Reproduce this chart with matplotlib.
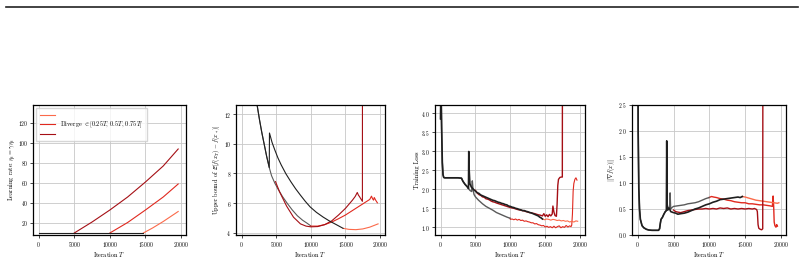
import matplotlib
matplotlib.use("Agg")
import matplotlib.pyplot as plt
from matplotlib.lines import Line2D
import numpy as np

plt.rcParams['font.family'] = 'serif'
plt.rcParams['font.serif'] = ['cmr10']
plt.rcParams['mathtext.fontset'] = 'cm'
plt.rcParams['axes.formatter.use_mathtext'] = True
plt.rcParams['font.size'] = 4.5
plt.rcParams['xtick.labelsize'] = 4
plt.rcParams['ytick.labelsize'] = 4

C_BLACK = '#1f1f1f'
C_GREY = '#5a5a5a'
C_DARK = '#a50f15'
C_MID = '#e0291f'
C_LIGHT = '#fb6a4a'

# ---------------- panel 1: learning rate ----------------
lr_base_x = [0, 14600]
lr_base_y = [10, 10]
lr_dark_x = [5000, 7500, 10000, 12500, 15000, 17500, 19600]
lr_dark_y = [10, 21, 33, 46, 61, 77, 94]
lr_mid_x = [10000, 12500, 15000, 17500, 19600]
lr_mid_y = [10, 20.5, 33, 46, 59]
lr_light_x = [14700, 16000, 17500, 19600]
lr_light_y = [10, 15, 21.5, 31.5]

# ---------------- panel 2: upper bound ----------------
ub_warm_x = [2000, 2230, 2600, 2930, 3300, 3630, 4000]
ub_warm_y = [14.5, 12.66, 11.6, 10.75, 9.9, 9.14, 8.4]
ub_black_x = [4000, 4030, 4400, 4790, 5250, 5720, 6400, 7120, 7800, 8510, 9200, 9910,
              10800, 11770, 12700, 13630, 14650]
ub_black_y = [8.4, 10.73, 10.1, 9.6, 9.05, 8.58, 7.98, 7.44, 6.97, 6.53, 6.12, 5.74,
              5.38, 5.06, 4.79, 4.56, 4.3]
ub_grey_x = [4000, 4330, 4800, 5260, 5900, 6650, 7300, 8050, 8800, 9440, 9950]
ub_grey_y = [8.4, 7.85, 7.35, 6.95, 6.45, 5.95, 5.55, 5.15, 4.85, 4.65, 4.48]
ub_dark_x = [4900, 5500, 6500, 7500, 8500, 9300, 10000, 11000, 12000, 13000, 14000,
             15000, 16000, 16400, 16700, 16850, 17000, 17200, 17440, 17470]
ub_dark_y = [7.45, 6.75, 5.8, 5.05, 4.6, 4.45, 4.4, 4.42, 4.55, 4.8, 5.2,
             5.65, 6.2, 6.45, 6.72, 6.55, 6.45, 6.3, 6.12, 40]
ub_mid_x = [9950, 11000, 12000, 13000, 14000, 15000, 16000, 17000, 18000, 18500,
            18750, 18900, 19050, 19150, 19350, 19600]
ub_mid_y = [4.45, 4.45, 4.55, 4.72, 4.95, 5.2, 5.5, 5.8, 6.1, 6.25,
            6.47, 6.3, 6.2, 6.38, 6.2, 6.02]
ub_light_x = [14650, 15500, 16500, 17500, 18500, 19700]
ub_light_y = [4.3, 4.23, 4.21, 4.26, 4.38, 4.6]

# ---------------- panel 3: training loss ----------------
loss_warm_x = [0, 30, 80, 150, 250, 350, 450, 600, 1000, 1500, 2000, 2500, 3000,
               3200, 3500, 3800, 4000]
loss_warm_y = [3.85, 4.6, 4.5, 3.6, 2.7, 2.38, 2.31, 2.3, 2.3, 2.3, 2.3, 2.3, 2.29,
               2.21, 2.13, 2.07, 2.02]
loss_black_x = [4000, 4040, 4100, 4200, 4400, 4700, 5000, 5250, 5500, 5750, 6000, 6250,
                6500, 6750, 7000, 7250, 7500, 7750, 8000, 8250, 8500, 8750, 9000,
                9250, 9500, 9750, 10000, 10250, 10500, 10750, 11000, 11250, 11500,
                11750, 12000, 12250, 12500, 12750, 13000, 13250, 13500, 13750,
                14000, 14200, 14400, 14600]
loss_black_y = [2.02, 2.99, 2.5, 2.15, 2.06, 2.0, 1.95, 1.91, 1.89, 1.85, 1.83, 1.81,
                1.79, 1.77, 1.75, 1.73, 1.71, 1.70, 1.68, 1.66, 1.65, 1.63, 1.62,
                1.60, 1.59, 1.56, 1.55, 1.53, 1.52, 1.50, 1.49, 1.47, 1.46,
                1.44, 1.44, 1.42, 1.41, 1.39, 1.38, 1.36, 1.34, 1.32,
                1.30, 1.27, 1.25, 1.22]
loss_grey_x = [4000, 4200, 4450, 4550, 4650, 4800, 5000, 5400, 6000, 6500, 7000, 7500,
               8000, 8500, 9000, 9500, 9950]
loss_grey_y = [2.02, 1.97, 1.94, 2.22, 1.99, 1.86, 1.80, 1.72, 1.62, 1.55, 1.50, 1.45,
               1.39, 1.35, 1.31, 1.27, 1.24]
loss_dark_x = [5000, 5250, 5500, 5750, 6000, 6250, 6500, 6750, 7000, 7250, 7500, 7750,
               8000, 8500, 9000, 9500, 10000, 10500, 11000, 11500, 12000, 12500,
               13000, 13500, 14000, 14300, 14600, 14800, 15000, 15200, 15400, 15600,
               15800, 16000, 16100, 16250, 16400, 16600, 16700, 16800, 16900, 17100,
               17300, 17450, 17470]
loss_dark_y = [1.97, 1.90, 1.86, 1.84, 1.80, 1.79, 1.75, 1.74, 1.72, 1.69, 1.67, 1.66,
               1.64, 1.61, 1.58, 1.55, 1.52, 1.50, 1.47, 1.45, 1.43, 1.40,
               1.38, 1.36, 1.33, 1.32, 1.30, 1.36, 1.29, 1.33, 1.28, 1.34,
               1.30, 1.35, 1.56, 1.40, 1.31, 1.29, 1.60, 2.10, 2.26, 2.31,
               2.32, 2.32, 6.0]
loss_mid_x = [9950, 10000, 10250, 10500, 10750, 11000, 11250, 11500, 11750, 12000,
              12250, 12500, 12750, 13000, 13250, 13500, 13750, 14000, 14250, 14500,
              14750, 15000, 15250, 15500, 15750, 16000, 16250, 16500, 16750, 17000,
              17250, 17500, 17750, 18000, 18250, 18500, 18700, 18800, 18900, 19000,
              19100, 19250, 19400, 19550]
loss_mid_y = [1.24, 1.21, 1.22, 1.20, 1.22, 1.19, 1.21, 1.18, 1.19, 1.16,
              1.17, 1.15, 1.14, 1.12, 1.12, 1.09, 1.10, 1.07, 1.06, 1.04,
              1.05, 1.01, 1.03, 1.00, 1.02, 0.99, 1.03, 0.99, 1.02, 1.04,
              0.99, 1.02, 1.00, 1.05, 1.01, 1.04, 1.02, 1.06, 1.35, 1.95,
              2.15, 2.26, 2.30, 2.24]
loss_light_x = [14600, 14900, 15200, 15500, 15800, 16100, 16400, 16700, 17000, 17300,
                17600, 17900, 18200, 18500, 18800, 19100, 19400, 19650]
loss_light_y = [1.22, 1.20, 1.22, 1.21, 1.19, 1.21, 1.20, 1.18, 1.19, 1.17,
                1.18, 1.16, 1.17, 1.14, 1.16, 1.14, 1.17, 1.16]

# ---------------- panel 4: gradient norm ----------------
gn_warm_x = [0, 60, 150, 250, 370, 600, 840, 1200, 1540, 2000, 2500, 2900, 3050,
             3150, 3250, 3450, 3650, 3850, 4000]
gn_warm_y = [5.0, 2.0, 0.9, 0.5, 0.30, 0.18, 0.14, 0.11, 0.096, 0.09, 0.09, 0.09, 0.12,
             0.22, 0.30, 0.34, 0.40, 0.45, 0.47]
gn_black_x = [4000, 4050, 4100, 4200, 4400, 4600, 4800, 5000, 5300, 5600, 6000, 6500,
              7000, 7500, 8000, 8500, 9000, 9500, 10000, 10500, 11000, 11500, 12000,
              12500, 13000, 13500, 14000, 14300, 14600]
gn_black_y = [0.47, 1.81, 0.60, 0.48, 0.52, 0.45, 0.44, 0.43, 0.42, 0.40, 0.41, 0.42,
              0.44, 0.47, 0.50, 0.52, 0.55, 0.58, 0.60, 0.63, 0.65, 0.68, 0.69,
              0.70, 0.71, 0.72, 0.73, 0.72, 0.74]
gn_grey_x = [4000, 4200, 4450, 4520, 4600, 4800, 5000, 5500, 6000, 6500, 7000, 7500,
             8000, 8500, 9000, 9500, 9950]
gn_grey_y = [0.47, 0.50, 0.55, 0.81, 0.50, 0.53, 0.55, 0.56, 0.57, 0.58, 0.60, 0.61,
             0.62, 0.64, 0.67, 0.70, 0.72]
gn_dark_x = [5000, 5300, 5600, 6000, 6500, 7000, 7500, 8000, 8500, 9000, 9500, 10000,
             10500, 11000, 11500, 12000, 12500, 13000, 13500, 14000, 14500, 15000,
             15500, 16000, 16300, 16600, 16700, 16800, 16900, 17100, 17300, 17450,
             17470]
gn_dark_y = [0.48, 0.45, 0.44, 0.43, 0.45, 0.47, 0.48, 0.49, 0.50, 0.50, 0.51, 0.50,
             0.51, 0.50, 0.52, 0.51, 0.52, 0.50, 0.51, 0.50, 0.51, 0.50,
             0.51, 0.50, 0.51, 0.49, 0.45, 0.20, 0.13, 0.11, 0.10, 0.12,
             3.0]
gn_mid_x = [9950, 10300, 10600, 11000, 11500, 12000, 12500, 13000, 13500, 14000, 14500,
            15000, 15500, 16000, 16500, 17000, 17500, 18000, 18500, 18800, 18900,
            18980, 19050, 19150, 19300, 19400, 19500]
gn_mid_y = [0.72, 0.74, 0.73, 0.72, 0.70, 0.69, 0.67, 0.66, 0.64, 0.63, 0.62,
            0.62, 0.60, 0.60, 0.59, 0.58, 0.58, 0.57, 0.56, 0.55, 0.75,
            0.55, 0.25, 0.18, 0.15, 0.20, 0.17]
gn_light_x = [14600, 15000, 15500, 16000, 16500, 17000, 17500, 18000, 18500, 19000,
              19500, 19700]
gn_light_y = [0.74, 0.73, 0.71, 0.69, 0.67, 0.66, 0.65, 0.64, 0.63, 0.62,
              0.61, 0.62]

fig = plt.figure(figsize=(8.04, 2.59), dpi=100)
fig.add_artist(Line2D([0.007, 0.992], [0.973, 0.973], color='#222222', lw=1.2))

H = 259.0
W = 804.0
boxes = [(33, 186), (236, 385), (435, 585), (632, 786)]
axes = []
for x0, x1 in boxes:
    ax = fig.add_axes([x0 / W, (H - 235) / H, (x1 - x0) / W, 130 / H])
    axes.append(ax)

lw = 0.8
for ax in axes:
    ax.grid(True, color='#c8c8c8', lw=0.6)
    ax.set_axisbelow(True)
    for s in ax.spines.values():
        s.set_linewidth(0.9)
    ax.tick_params(length=2, width=0.5, pad=1.5)
    ax.set_xlim(-800, 20700)
    ax.set_xticks([0, 5000, 10000, 15000, 20000])
    ax.set_xlabel('Iteration $T$', labelpad=1)

# panel 1
ax = axes[0]
ax.plot(lr_light_x, lr_light_y, color=C_LIGHT, lw=lw)
ax.plot(lr_mid_x, lr_mid_y, color=C_MID, lw=lw)
ax.plot(lr_dark_x, lr_dark_y, color=C_DARK, lw=lw)
ax.plot(lr_base_x, lr_base_y, color=C_BLACK, lw=lw)
ax.set_ylim(8, 138)
ax.set_yticks([20, 40, 60, 80, 100, 120])
ax.set_ylabel(r'Learning rate: $\eta_t = \gamma\eta_t$', labelpad=1)
hs = [Line2D([], [], color=c, lw=lw) for c in (C_LIGHT, C_MID, C_DARK)]
ax.legend(hs, ['', r'Diverge $\in [0.25T,\, 0.5T,\, 0.75T]$', ''], loc='upper left',
          fontsize=4.5, labelspacing=0.3, handlelength=2.5, borderpad=0.6,
          frameon=True, fancybox=False, edgecolor='#cccccc')

# panel 2
ax = axes[1]
ax.plot(ub_warm_x + ub_grey_x, ub_warm_y + ub_grey_y, color=C_GREY, lw=lw)
ax.plot(ub_light_x, ub_light_y, color=C_LIGHT, lw=lw)
ax.plot(ub_mid_x, ub_mid_y, color=C_MID, lw=lw)
ax.plot(ub_dark_x, ub_dark_y, color=C_DARK, lw=lw)
ax.plot(ub_warm_x + ub_black_x, ub_warm_y + ub_black_y, color=C_BLACK, lw=lw)
ax.set_ylim(3.85, 12.62)
ax.set_yticks([4, 6, 8, 10, 12])
ax.set_ylabel(r'Upper bound of $\mathbb{E}[f(x_T) - f(x_*)]$', labelpad=1)

# panel 3
ax = axes[2]
ax.plot(loss_mid_x, loss_mid_y, color=C_MID, lw=lw)
ax.plot(loss_light_x, loss_light_y, color=C_LIGHT, lw=lw)
ax.plot(loss_warm_x + loss_grey_x, loss_warm_y + loss_grey_y, color=C_GREY, lw=1.0)
ax.plot(loss_dark_x, loss_dark_y, color=C_DARK, lw=1.0)
ax.plot(loss_warm_x + loss_black_x, loss_warm_y + loss_black_y, color=C_BLACK, lw=1.2)
ax.set_ylim(0.8, 4.21)
ax.set_yticks([1.0, 1.5, 2.0, 2.5, 3.0, 3.5, 4.0])
ax.set_ylabel('Training Loss', labelpad=1)

# panel 4
ax = axes[3]
ax.plot(gn_mid_x, gn_mid_y, color=C_MID, lw=1.0)
ax.plot(gn_light_x, gn_light_y, color=C_LIGHT, lw=1.0)
ax.plot(gn_warm_x + gn_grey_x, gn_warm_y + gn_grey_y, color=C_GREY, lw=1.0)
ax.plot(gn_dark_x, gn_dark_y, color=C_DARK, lw=1.0)
ax.plot(gn_warm_x + gn_black_x, gn_warm_y + gn_black_y, color=C_BLACK, lw=1.2)
ax.set_ylim(0, 2.5)
ax.set_yticks([0.0, 0.5, 1.0, 1.5, 2.0, 2.5])
ax.set_ylabel(r'$\|\nabla f(x)\|$', labelpad=1)

fig.savefig('out.png', dpi=100)
